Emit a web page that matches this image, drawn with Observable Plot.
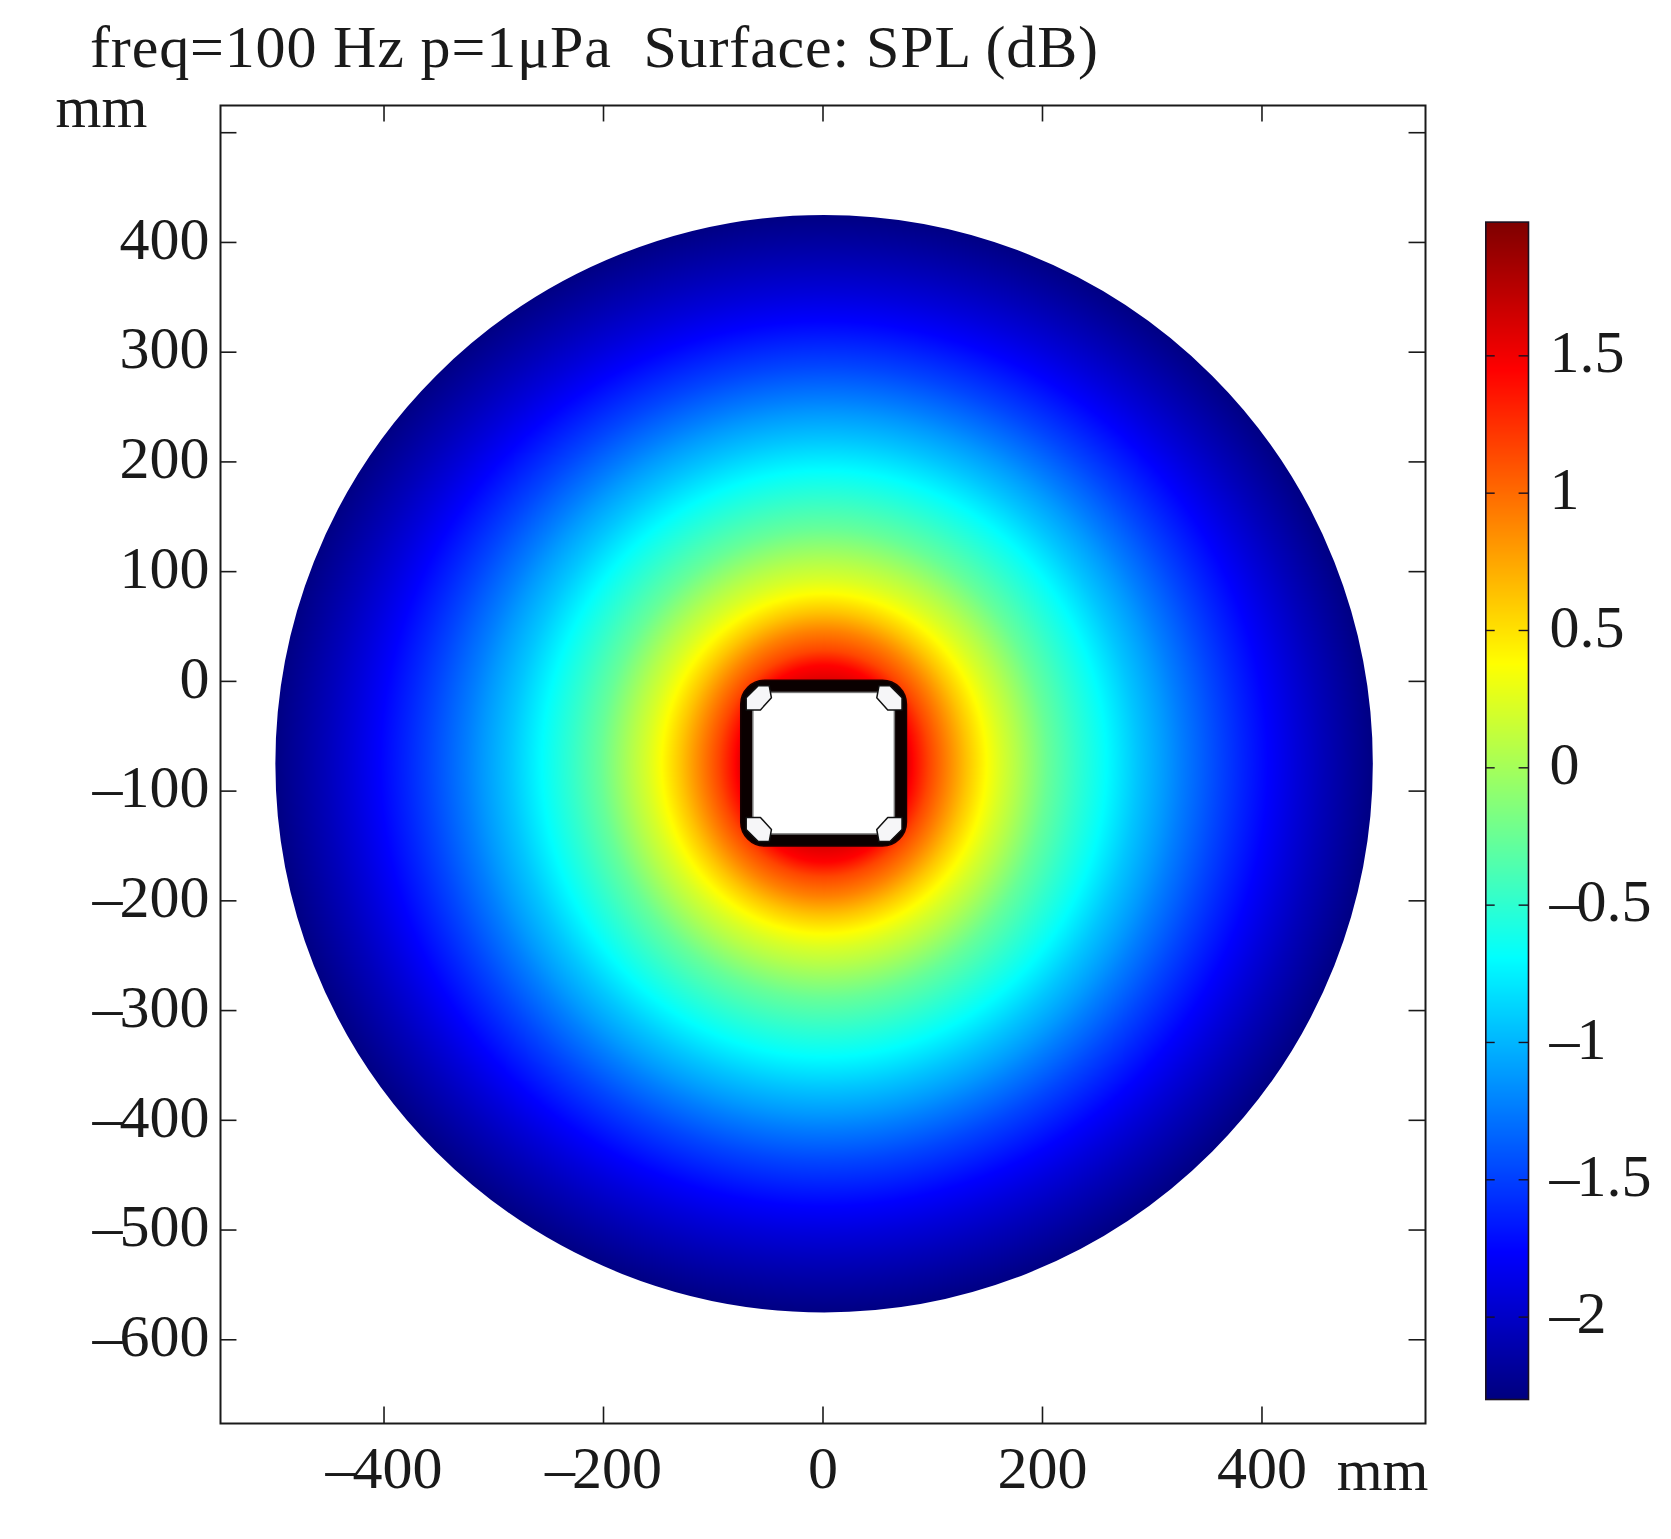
<!DOCTYPE html>
<html>
<head>
<meta charset="utf-8">
<script src="https://cdn.jsdelivr.net/npm/d3@7"></script>
<script src="https://cdn.jsdelivr.net/npm/@observablehq/plot@0.6"></script>
<style>
  html, body { margin: 0; padding: 0; background: #fff; overflow: hidden; }
  #title { position: absolute; left: 0; top: 0; z-index: 2; padding-left: 90px; font: 60px/94px "Liberation Serif", serif; letter-spacing: 0.85px; color: #1a1a1a; white-space: pre; }
  #row { display: flex; align-items: flex-start; }
  svg { display: block; }
</style>
</head>
<body>
<div id="title"></div>
<div id="row"></div>
<script>
const titleText = "freq=100 Hz p=1\u03BCPa  Surface: SPL (dB)";

// axes
const xDomain = [-549, 549];
const yDomain = [-676.3, 524.8];
const xTicks = [-400, -200, 0, 200, 400];
const yTicks = [500, 400, 300, 200, 100, 0, -100, -200, -300, -400, -500, -600];
const yLabels = [400, 300, 200, 100, 0, -100, -200, -300, -400, -500, -600];
const barTicks = [1.5, 1, 0.5, 0, -0.5, -1, -1.5, -2];
const unit = "mm";

// jet colour table and SPL range
const splMin = -2.3;
const splMax = 1.987;
const jetStops = [0, 0.125, 0.375, 0.625, 0.875, 1];
const jetColors = ["#00007f", "#0000ff", "#00ffff", "#ffff00", "#ff0000", "#7f0000"];

// SPL levels, with the distance (mm) from the centre of the square
// at which each level is met along the horizontal and along the vertical.
const ringSPL = [1.98, 1.6, 1.44, 1.16, 0.91, 0.63, 0.38, 0.22, 0.06, -0.1, -0.26, -0.48, -0.69, -0.93, -1.12, -1.23, -1.47, -1.61, -1.76, -1.92, -2.05, -2.16, -2.28];
const radiusAlongX = [40, 75, 81, 96, 112, 130, 148, 161, 176, 190, 204, 230, 257, 285, 311, 325, 359, 380, 404, 430, 453, 475, 500];
const radiusAlongY = [40, 75, 90, 103, 121, 138, 155, 168, 184, 199, 214, 241, 267, 295, 319, 332, 362, 382, 403, 429, 453, 475, 500];
const centre = { x: 1, y: -75 };
const bearings = d3.range(0, 360, 3);

// geometry of the duct, mm from the centre of the square
const wallHalf = 75.5;
const openingHalf = 64.5;
const cornerPatchX = [-71, -71, -60, -50, -48, -58];
const cornerPatchY = [49, 60, 71, 71, 60, 49];
const mirrors = [[1, 1], [-1, 1], [1, -1], [-1, -1]];

const wall = [{ x1: centre.x - wallHalf, x2: centre.x + wallHalf, y1: centre.y + wallHalf, y2: centre.y - wallHalf }];
const opening = [{ x1: centre.x - openingHalf, x2: centre.x + openingHalf, y1: centre.y + openingHalf, y2: centre.y - openingHalf }];
const corners = mirrors.flatMap(([sx, sy], c) => cornerPatchX.map((px, i) => ({
  c, x: centre.x + sx * px, y: centre.y + sy * cornerPatchY[i]
})));
const samples = ringSPL.flatMap((v, i) => bearings.map(b => {
  const a = b * Math.PI / 180, cs = Math.cos(a), sn = Math.sin(a);
  const r = radiusAlongX[i] * cs * cs + radiusAlongY[i] * sn * sn;
  return { x: centre.x + r * cs, y: centre.y + r * sn, v };
}));

const serif = "Liberation Serif";
const ink = "#1a1a1a";
const fontSize = 60;
const dash = d => (d < 0 ? "\u2013" + (-d) : String(d));
const color = {
  type: "linear",
  domain: jetStops.map(t => splMin + t * (splMax - splMin)),
  range: jetColors
};

document.getElementById("title").textContent = titleText;

const mainW = 1450, svgH = 1539;
const mL = 220, mR = 25, mT = 105, mB = 116;
const pxPerMm = (mainW - mL - mR) / (xDomain[1] - xDomain[0]);
const tickMm = 15;
const maskW = 380;

const main = Plot.plot({
  width: mainW, height: svgH,
  marginLeft: mL, marginRight: mR, marginTop: mT, marginBottom: mB,
  x: { domain: xDomain, label: null },
  y: { domain: yDomain, label: null },
  color,
  style: { background: "transparent", fontFamily: serif, color: ink },
  marks: [
    Plot.raster(samples, {
      x: "x", y: "y", fill: "v",
      x1: xDomain[0], x2: xDomain[1], y1: yDomain[0], y2: yDomain[1],
      interpolate: "barycentric", pixelSize: 1
    }),
    Plot.dot([centre], {
      x: "x", y: "y", r: 500 * pxPerMm + maskW / 2,
      stroke: "white", strokeWidth: maskW, fill: "none", clip: "frame"
    }),
    Plot.rect(wall, { x1: "x1", x2: "x2", y1: "y1", y2: "y2", fill: "#0a0000", stroke: "#1a0000", strokeWidth: 1.5, rx: 24 }),
    Plot.rect(opening, { x1: "x1", x2: "x2", y1: "y1", y2: "y2", fill: "white", stroke: "#777", strokeWidth: 1.5 }),
    Plot.line(corners, { x: "x", y: "y", z: "c", curve: "linear-closed", fill: "#f6f6f8", stroke: "#111", strokeWidth: 1.5 }),
    Plot.frame({ stroke: ink, strokeWidth: 2 }),
    Plot.ruleX(xTicks, { y1: yDomain[0], y2: yDomain[0] + tickMm, stroke: ink, strokeWidth: 1.6 }),
    Plot.ruleX(xTicks, { y1: yDomain[1], y2: yDomain[1] - tickMm, stroke: ink, strokeWidth: 1.6 }),
    Plot.ruleY(yTicks, { x1: xDomain[0], x2: xDomain[0] + tickMm, stroke: ink, strokeWidth: 1.6 }),
    Plot.ruleY(yTicks, { x1: xDomain[1], x2: xDomain[1] - tickMm, stroke: ink, strokeWidth: 1.6 }),
    Plot.axisX(xTicks, { anchor: "bottom", tickSize: 0, tickPadding: 22, tickFormat: dash, fontSize, fontFamily: serif, fontVariant: "normal", fill: ink, label: null }),
    Plot.axisY(yLabels, { anchor: "left", tickSize: 0, tickPadding: 11, dy: -3, tickFormat: dash, fontSize, fontFamily: serif, fontVariant: "normal", fill: ink, label: null }),
    Plot.text([unit], { frameAnchor: "top-left", dx: -165, dy: 21, textAnchor: "start", lineAnchor: "bottom", fontSize: 59, fontFamily: serif, fill: ink }),
    Plot.text([unit], { frameAnchor: "bottom-right", dx: 3, dy: 66, textAnchor: "end", lineAnchor: "bottom", fontSize: 59, fontFamily: serif, fill: ink })
  ]
});

const barTickW = 0.22;
const bar = Plot.plot({
  width: 1671 - mainW, height: svgH,
  marginLeft: 35.3, marginRight: 143,
  marginTop: 221.6, marginBottom: 140,
  x: { domain: [0, 1], axis: null },
  y: { domain: [splMin, splMax], label: null },
  color,
  style: { background: "transparent", fontFamily: serif, color: ink },
  marks: [
    Plot.raster({
      x1: 0, x2: 1, y1: splMin, y2: splMax,
      fill: (x, y) => y, pixelSize: 1
    }),
    Plot.frame({ stroke: "#1a1020", strokeWidth: 1.6 }),
    Plot.ruleY(barTicks, { x1: 0, x2: barTickW, stroke: "#1a1020", strokeWidth: 1.4 }),
    Plot.ruleY(barTicks, { x1: 1 - barTickW, x2: 1, stroke: "#1a1020", strokeWidth: 1.4 }),
    Plot.axisY(barTicks, { anchor: "right", tickSize: 0, tickPadding: 21, dy: -3, textAnchor: "start", tickFormat: dash, fontSize, fontFamily: serif, fontVariant: "normal", fill: ink, label: null })
  ]
});

// the reference's minus dash sits tight against its digits
function tightenDash(svg, gap) {
  svg.querySelectorAll("text").forEach(t => {
    const s = t.textContent;
    if (s.startsWith("\u2013")) {
      t.textContent = "\u2013";
      const rest = document.createElementNS("http://www.w3.org/2000/svg", "tspan");
      rest.setAttribute("dx", gap);
      rest.textContent = s.slice(1);
      t.append(rest);
    }
  });
}
tightenDash(main, -3);
tightenDash(bar, -3);

const row = document.getElementById("row");
row.append(main, bar);
</script>
</body>
</html>
